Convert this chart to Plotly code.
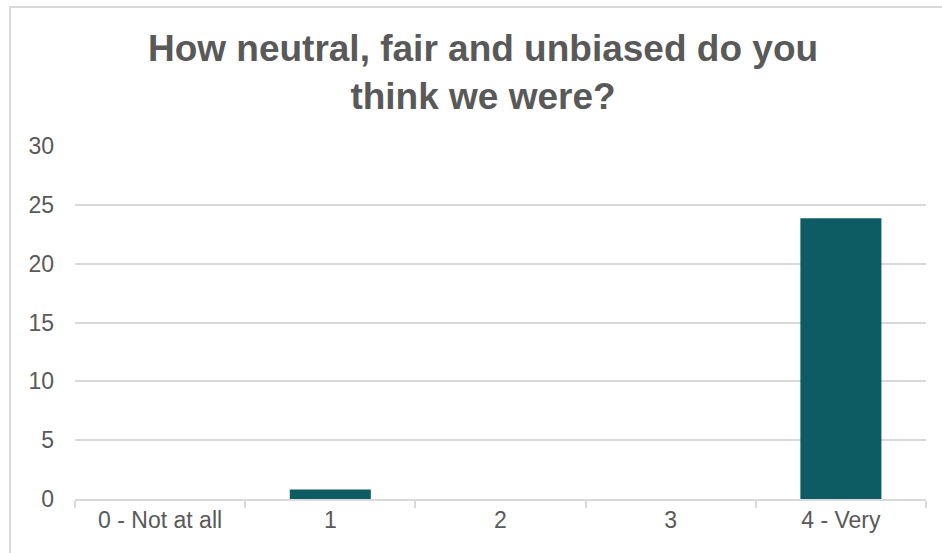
import plotly.graph_objects as go

categories = ["0 - Not at all", "1", "2", "3", "4 - Very"]
values = [0, 0.8, 0, 0, 23.85]
y_ticks = [0, 5, 10, 15, 20, 25, 30]

W, H = 942, 553
L, R, T, B = 75, 16, 146, 54
pw, ph = W - L - R, H - T - B

fig = go.Figure()
fig.add_trace(go.Bar(x=categories, y=values, marker=dict(color="#0d5c63", line=dict(width=0)), width=0.476))

def px2paper_x(px):
    return (px - L) / pw

def px2paper_y(py):
    return 1 + (T - py) / ph

border = "#d9d9d9"
fig.update_layout(
    width=W, height=H,
    margin=dict(l=L, r=R, t=T, b=B, autoexpand=False),
    paper_bgcolor="white", plot_bgcolor="white",
    font=dict(family="Liberation Sans, Arial, sans-serif", color="#595959", size=23),
    showlegend=False,
    title=dict(
        text="<b>How neutral, fair and unbiased do you<br>think we were?</b>",
        x=483 / W, xanchor="center", xref="container",
        y=1 - 61 / H, yanchor="top", yref="container",
        font=dict(size=37, color="#595959", family="Liberation Sans, Arial, sans-serif"),
    ),
    xaxis=dict(
        showgrid=False, showline=True, linecolor="#d9d9d9", linewidth=1.5,
        ticks="outside", tickson="boundaries", ticklen=7, tickcolor="#d9d9d9", tickwidth=1.5,
        tickfont=dict(size=23, color="#595959"), zeroline=False,
    ),
    yaxis=dict(
        range=[0, 30], tickvals=y_ticks, showgrid=True, gridcolor="#d9d9d9", gridwidth=1.5,
        zeroline=False, showline=False, ticks="", ticklabelstandoff=20,
        tickfont=dict(size=23, color="#595959"),
    ),
    shapes=[
        dict(type="rect", xref="paper", yref="paper",
             x0=px2paper_x(9), x1=px2paper_x(W), y0=px2paper_y(6), y1=px2paper_y(8),
             line=dict(width=0), fillcolor=border, layer="above"),
        dict(type="rect", xref="paper", yref="paper",
             x0=px2paper_x(9), x1=px2paper_x(11), y0=px2paper_y(6), y1=px2paper_y(H),
             line=dict(width=0), fillcolor=border, layer="above"),
    ],
)

fig.write_html("out.html", config={"displayModeBar": False})
